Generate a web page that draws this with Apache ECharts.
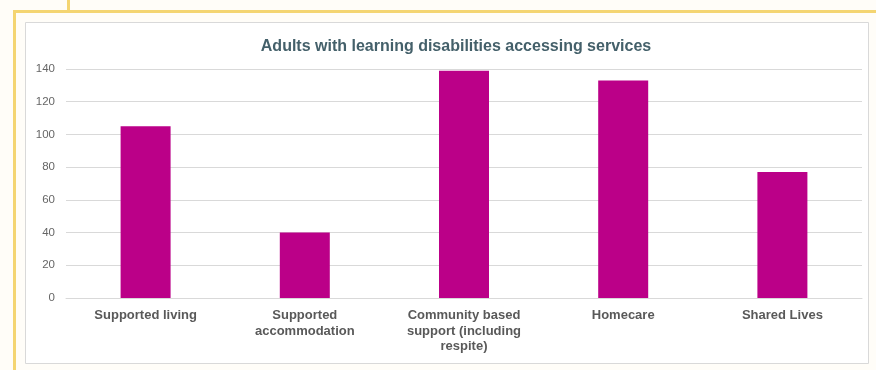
<!DOCTYPE html>
<html>
<head>
<meta charset="utf-8">
<script src="https://cdn.jsdelivr.net/npm/echarts@6/dist/echarts.min.js"></script>
<style>
  html, body { margin: 0; padding: 0; background: #fffdf8; }
  #servicesChart { width: 876px; height: 370px; }
</style>
</head>
<body>
<div id="servicesChart"></div>
<script>
// data
var categories = ['Supported living', 'Supported\naccommodation', 'Community based\nsupport (including\nrespite)', 'Homecare', 'Shared Lives'];
var adults = [105, 40, 139, 133, 77];
var yTicks = { min: 0, max: 140, interval: 20 };

var chart = echarts.init(document.getElementById('servicesChart'));
var option = {
    backgroundColor: '#fffdf8',
    animation: false,
    title: {
        text: 'Adults with learning disabilities accessing services',
        left: 451,
        textAlign: 'center',
        top: 34,
        textStyle: {
            fontFamily: 'Liberation Sans, Arial, sans-serif',
            fontSize: 16,
            fontWeight: 'bold',
            color: '#44606a'
        }
    },
    graphic: [
        // chart box
        { type: 'rect', shape: { x: 25.5, y: 22.5, width: 843, height: 341 },
          style: { fill: '#ffffff', stroke: '#d9d9d9', lineWidth: 1 }, z: -10 },
        // yellow frame
        { type: 'rect', shape: { x: 13, y: 10, width: 863, height: 3 }, style: { fill: '#f4d572' }, z: -5 },
        { type: 'rect', shape: { x: 13, y: 10, width: 3, height: 360 }, style: { fill: '#f4d572' }, z: -5 },
        { type: 'rect', shape: { x: 67, y: 0, width: 3, height: 12 }, style: { fill: '#f4d572' }, z: -5 }
    ],
    grid: {
        left: 66,
        right: 14,
        top: 69,
        bottom: 72
    },
    xAxis: {
        type: 'category',
        data: categories,
        axisLine: { show: true, lineStyle: { color: '#d9d9d9', width: 1 } },
        axisTick: { show: false },
        axisLabel: {
            interval: 0,
            margin: 10,
            fontFamily: 'Liberation Sans, Arial, sans-serif',
            fontSize: 13,
            fontWeight: 'bold',
            color: '#595959',
            lineHeight: 15.5
        }
    },
    yAxis: {
        type: 'value',
        min: yTicks.min,
        max: yTicks.max,
        interval: yTicks.interval,
        axisLine: { show: false },
        axisTick: { show: false },
        axisLabel: {
            margin: 11,
            fontFamily: 'Liberation Sans, Arial, sans-serif',
            fontSize: 11.5,
            color: '#666666'
        },
        splitLine: { lineStyle: { color: '#d9d9d9', width: 1 } }
    },
    series: [{
        name: 'Adults',
        type: 'bar',
        data: adults,
        barWidth: 50,
        itemStyle: { color: '#bb0088' }
    }]
};
chart.setOption(option);
</script>
</body>
</html>
